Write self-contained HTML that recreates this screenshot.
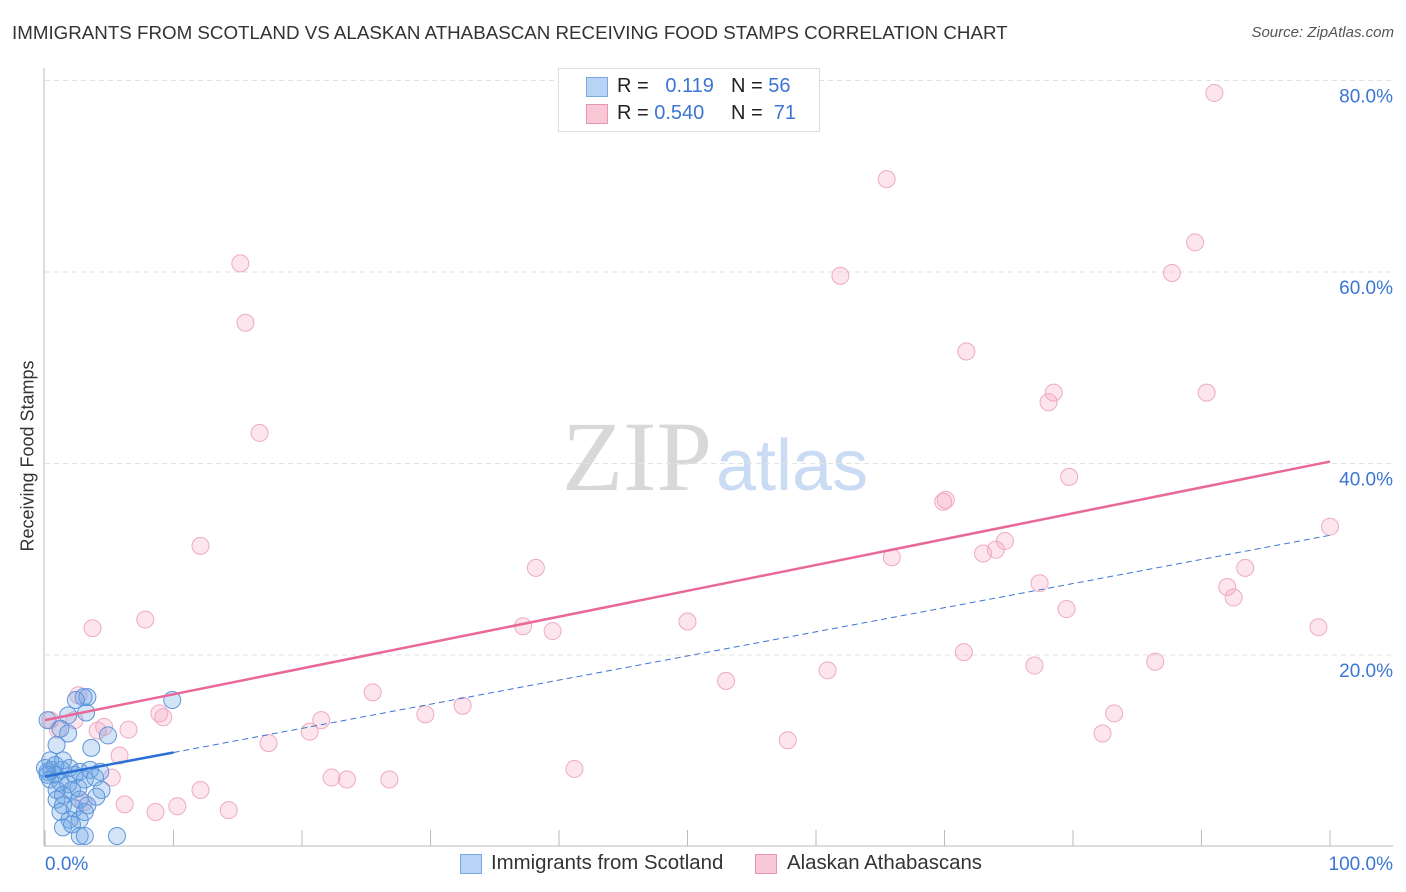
<!DOCTYPE html>
<html><head><meta charset="utf-8"><style>
body{margin:0;background:#fff;font-family:"Liberation Sans",sans-serif}
#wrap{position:relative;width:1406px;height:892px;overflow:hidden}
</style></head><body>
<div id="wrap">
<div style="position:absolute;left:12px;top:22px;font-size:18.75px;color:#333">IMMIGRANTS FROM SCOTLAND VS ALASKAN ATHABASCAN RECEIVING FOOD STAMPS CORRELATION CHART</div>
<div style="position:absolute;right:12px;top:24px;font-size:15px;color:#555;font-style:italic">Source: ZipAtlas.com</div>
<svg id="svg" width="1406" height="892" style="position:absolute;left:0;top:0">
<text x="712" y="490" font-family="Liberation Serif,serif" font-size="100" fill="#d8d8d8" text-anchor="end">ZIP</text>
<text x="716" y="490" font-family="Liberation Sans,sans-serif" font-size="72" fill="#c9dcf3">atlas</text>
</svg>
<div style="position:absolute;left:558px;top:68px;width:260px;height:62px;border:1px solid #ddd;background:#fff;font-size:20px;color:#222">
 <div style="position:absolute;left:27px;top:8px;width:20px;height:18px;background:#b8d3f5;border:1px solid #7aa7e0"></div>
 <div style="position:absolute;left:58px;top:6px">R = <span style="color:#3b76d4">&nbsp;&nbsp;0.119</span></div>
 <div style="position:absolute;left:172px;top:6px">N = <span style="color:#3b76d4">56</span></div>
 <div style="position:absolute;left:27px;top:35px;width:20px;height:18px;background:#f9c8d7;border:1px solid #e896b4"></div>
 <div style="position:absolute;left:58px;top:33px">R = <span style="color:#3b76d4">0.540</span></div>
 <div style="position:absolute;left:172px;top:33px">N = <span style="color:#3b76d4">&nbsp;71</span></div>
</div>
<div style="position:absolute;left:28px;top:456px;transform:translate(-50%,-50%) rotate(-90deg);font-size:18px;color:#333;white-space:nowrap">Receiving Food Stamps</div>
<div style="position:absolute;left:460px;top:852px;font-size:20.4px;color:#333;width:600px;height:26px">
 <div style="position:absolute;left:0;top:2px;width:20px;height:18px;background:#b8d3f5;border:1px solid #7aa7e0"></div>
 <div style="position:absolute;left:31px;top:0">Immigrants from Scotland</div>
 <div style="position:absolute;left:295px;top:2px;width:20px;height:18px;background:#f9c8d7;border:1px solid #e896b4"></div>
 <div style="position:absolute;left:327px;top:0">Alaskan Athabascans</div>
</div>
</div>
<script>
const yTicks=[20,40,60,80];
const xTickLabels=["0.0%","100.0%"];
const blueX=[3.0,3.3,2.4,9.9,3.2,1.8,0.2,1.2,1.8,4.9,0.9,3.6,0.5,0.2,0.8,1.3,1.9,0.4,1.2,2.3,2.7,1.8,3.1,3.5,3.9,0.9,1.4,2.1,4.4,2.7,4.0,0.9,1.4,2.3,3.1,1.2,1.9,2.7,1.4,2.1,2.7,3.1,5.6,0.4,0.8,0,0.2,1.4,4.3,2.6,3.3];
const blueY=[15.6,15.6,15.3,15.3,14.0,13.7,13.2,12.3,11.8,11.6,10.6,10.3,8.0,7.8,7.5,8.0,8.2,7.0,6.7,7.5,7.8,6.5,7.0,8.0,7.2,5.9,5.4,5.9,5.9,4.9,5.2,4.9,4.3,4.0,3.6,3.6,2.8,2.8,2.0,2.3,1.1,1.1,1.1,9.0,8.5,8.2,7.5,9.0,7.8,6.1,4.3];
const pinkX=[91.0,65.5,15.2,61.9,89.5,87.7,15.6,71.7,90.4,78.5,78.1,16.7,79.7,70.1,69.9,100,12.1,74.7,74.0,73.0,65.9,38.2,93.4,77.4,92.0,92.5,79.5,7.8,3.7,37.2,39.5,50.0,99.1,71.5,86.4,77.0,60.9,53.0,25.5,2.6,32.5,29.6,8.9,9.2,83.2,21.5,20.6,4.6,6.5,4.1,2.3,82.3,0.4,1.0,17.4,57.8,5.8,41.2,22.3,23.5,26.8,5.2,12.1,6.2,10.3,14.3,8.6,3.0];
const pinkY=[78.7,69.7,60.9,59.6,63.1,59.9,54.7,51.7,47.4,47.4,46.4,43.2,38.6,36.2,36.0,33.4,31.4,31.9,31.0,30.6,30.2,29.1,29.1,27.5,27.1,26.0,24.8,23.7,22.8,23.0,22.5,23.5,22.9,20.3,19.3,18.9,18.4,17.3,16.1,15.8,14.7,13.8,13.9,13.5,13.9,13.2,12.0,12.5,12.2,12.1,13.2,11.8,13.2,12.2,10.8,11.1,9.5,8.1,7.2,7.0,7.0,7.2,5.9,4.4,4.2,3.8,3.6,4.6];
const pinkTrend=[13.2,40.2];
const blueTrend=[7.3,32.5];
const blueSolidEnd=10;
const NS="http://www.w3.org/2000/svg";
const svg=document.getElementById('svg');
const X=v=>45+v*12.85, Y=v=>846.5-v*9.575;
function mk(t,a){const e=document.createElementNS(NS,t);for(const k in a)e.setAttribute(k,a[k]);svg.appendChild(e);return e;}
yTicks.forEach(t=>{
 const l=mk('line',{x1:45,x2:1393,y1:Y(t),y2:Y(t),stroke:'#e2e2e2','stroke-dasharray':'5,4'});
 
 
 const tx=mk('text',{x:1393,y:Y(t)+22,'text-anchor':'end','font-size':19,fill:'#3b76d4','font-family':'Liberation Sans,sans-serif'});
 tx.textContent=t+'.0%';
 
 
});
const ax=mk('line',{x1:44,x2:44,y1:68,y2:846,stroke:'#bbb'});


const bx=mk('line',{x1:44,x2:1393,y1:846,y2:846,stroke:'#bbb'});


for(let i=0;i<=10;i++){const t=mk('line',{x1:X(i*10),x2:X(i*10),y1:830,y2:846,stroke:'#bbb'});
 
 }
[[0,'start',45],[1,'end',1393]].forEach(([i,a,x])=>{const t=mk('text',{x:x,y:870,'text-anchor':a,'font-size':19,fill:'#3b76d4','font-family':'Liberation Sans,sans-serif'});t.textContent=xTickLabels[i];
 
 });
pinkX.forEach((x,i)=>{const c=mk('circle',{cx:X(x),cy:Y(pinkY[i]),r:8.5,fill:'rgba(244,160,190,0.28)',stroke:'#eeaac3','stroke-width':1});
 
 });
blueX.forEach((x,i)=>{const c=mk('circle',{cx:X(x),cy:Y(blueY[i]),r:8.5,fill:'rgba(110,165,230,0.3)',stroke:'#5e95dc','stroke-width':1});
 
 });
const bd=mk('line',{x1:X(blueSolidEnd),y1:Y(blueTrend[0]+(blueTrend[1]-blueTrend[0])*blueSolidEnd/100),x2:X(100),y2:Y(blueTrend[1]),stroke:'#3b76d4','stroke-width':1,'stroke-dasharray':'6,4'});


const bs=mk('line',{x1:X(0),y1:Y(blueTrend[0]),x2:X(blueSolidEnd),y2:Y(blueTrend[0]+(blueTrend[1]-blueTrend[0])*blueSolidEnd/100),stroke:'#2a6fd6','stroke-width':2.5});


const pl=mk('line',{x1:X(0),y1:Y(pinkTrend[0]),x2:X(100),y2:Y(pinkTrend[1]),stroke:'#e8689a','stroke-width':2.5});


</script>
</body></html>
